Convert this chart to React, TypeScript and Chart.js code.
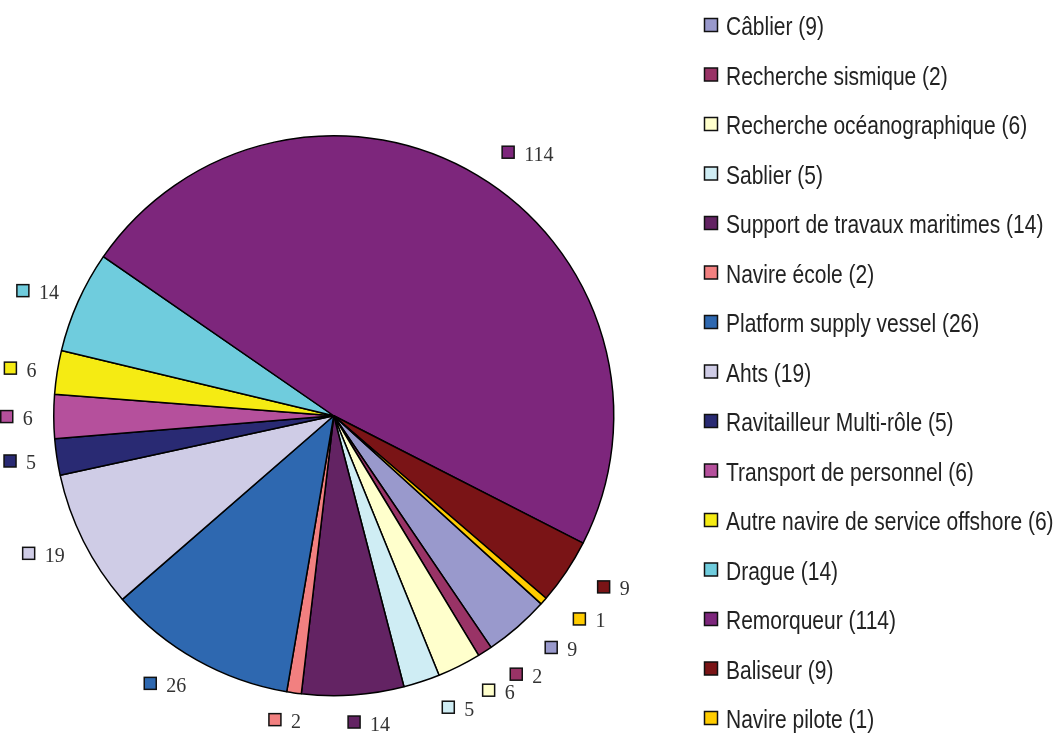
import { useEffect, useRef } from "react";
import { Chart, registerables } from "chart.js";

Chart.register(...registerables);

const categories = [
  "Câblier",
  "Recherche sismique",
  "Recherche océanographique",
  "Sablier",
  "Support de travaux maritimes",
  "Navire école",
  "Platform supply vessel",
  "Ahts",
  "Ravitailleur Multi-rôle",
  "Transport de personnel",
  "Autre navire de service offshore",
  "Drague",
  "Remorqueur",
  "Baliseur",
  "Navire pilote",
];

const counts = [9, 2, 6, 5, 14, 2, 26, 19, 5, 6, 6, 14, 114, 9, 1];

const colors = [
  "#9999CC",
  "#993366",
  "#FFFFCC",
  "#CFEDF4",
  "#632363",
  "#F28080",
  "#2E68B0",
  "#CFCCE6",
  "#292A73",
  "#B5509C",
  "#F5EB13",
  "#6FCCDD",
  "#7D267C",
  "#7A1416",
  "#FFCC00",
];

const W = 1058;
const H = 733;

const outerLabels = {
  id: "outerLabels",
  afterDatasetsDraw(chart: any) {
    const ctx = chart.ctx as CanvasRenderingContext2D;
    const meta = chart.getDatasetMeta(0);
    ctx.save();
    ctx.font = "20px 'Liberation Serif', 'Times New Roman', serif";
    ctx.textBaseline = "alphabetic";
    ctx.textAlign = "left";
    const SQ = 12;
    const GAP = 10;
    const LEAD = 14;
    meta.data.forEach((arc: any, i: number) => {
      const p = arc.getProps(["x", "y", "startAngle", "endAngle", "outerRadius"], true);
      const mid = (p.startAngle + p.endAngle) / 2;
      const cos = Math.cos(mid);
      const sin = Math.sin(mid);
      const text = String(counts[i]);
      const tw = ctx.measureText(text).width;
      const w = LEAD + SQ + GAP + tw;
      const f = Math.max(-1, Math.min(1, cos * 4));
      const bx = p.x + (p.outerRadius + 21) * cos + (w / 2) * f;
      const by = p.y + (p.outerRadius + 27) * sin;
      const sqLeft = bx - w / 2 + LEAD;
      ctx.fillStyle = colors[i];
      ctx.fillRect(sqLeft, by - SQ / 2, SQ, SQ);
      ctx.lineWidth = 1.5;
      ctx.strokeStyle = "#111";
      ctx.strokeRect(sqLeft, by - SQ / 2, SQ, SQ);
      ctx.fillStyle = "#333";
      ctx.fillText(text, sqLeft + SQ + GAP, by + 8.5);
    });
    ctx.restore();
  },
};

const sideLegend = {
  id: "sideLegend",
  afterDraw(chart: any) {
    const ctx = chart.ctx as CanvasRenderingContext2D;
    ctx.save();
    ctx.textBaseline = "alphabetic";
    ctx.textAlign = "left";
    categories.forEach((name, i) => {
      const y = 25 + i * 49.5;
      ctx.fillStyle = colors[i];
      ctx.fillRect(704.5, y - 6.5, 13, 13);
      ctx.lineWidth = 1.5;
      ctx.strokeStyle = "#111";
      ctx.strokeRect(704.5, y - 6.5, 13, 13);
      ctx.save();
      ctx.translate(726, y + 10);
      ctx.scale(0.84, 1);
      ctx.font = "25px 'Liberation Sans', Arial, sans-serif";
      ctx.fillStyle = "#222";
      ctx.fillText(`${name} (${counts[i]})`, 0, 0);
      ctx.restore();
    });
    ctx.restore();
  },
};

export default function App() {
  const ref = useRef<HTMLCanvasElement | null>(null);

  useEffect(() => {
    if (!ref.current) return;
    const chart = new Chart(ref.current, {
      type: "pie",
      data: {
        labels: categories,
        datasets: [
          {
            data: counts,
            backgroundColor: colors,
            borderColor: "#000",
            borderWidth: 1.5,
          },
        ],
      },
      options: {
        responsive: false,
        animation: false,
        rotation: 132.2,
        layout: { padding: { left: 53, top: 135, right: 443.5, bottom: 36.5 } },
        plugins: {
          legend: { display: false },
          tooltip: { enabled: false },
        },
      },
      plugins: [outerLabels, sideLegend],
    });
    return () => chart.destroy();
  }, []);

  return (
    <div style={{ position: "absolute", left: 0, top: 0, width: W, height: H, background: "#fff" }}>
      <canvas ref={ref} width={W} height={H} style={{ display: "block", width: W, height: H }} />
    </div>
  );
}
